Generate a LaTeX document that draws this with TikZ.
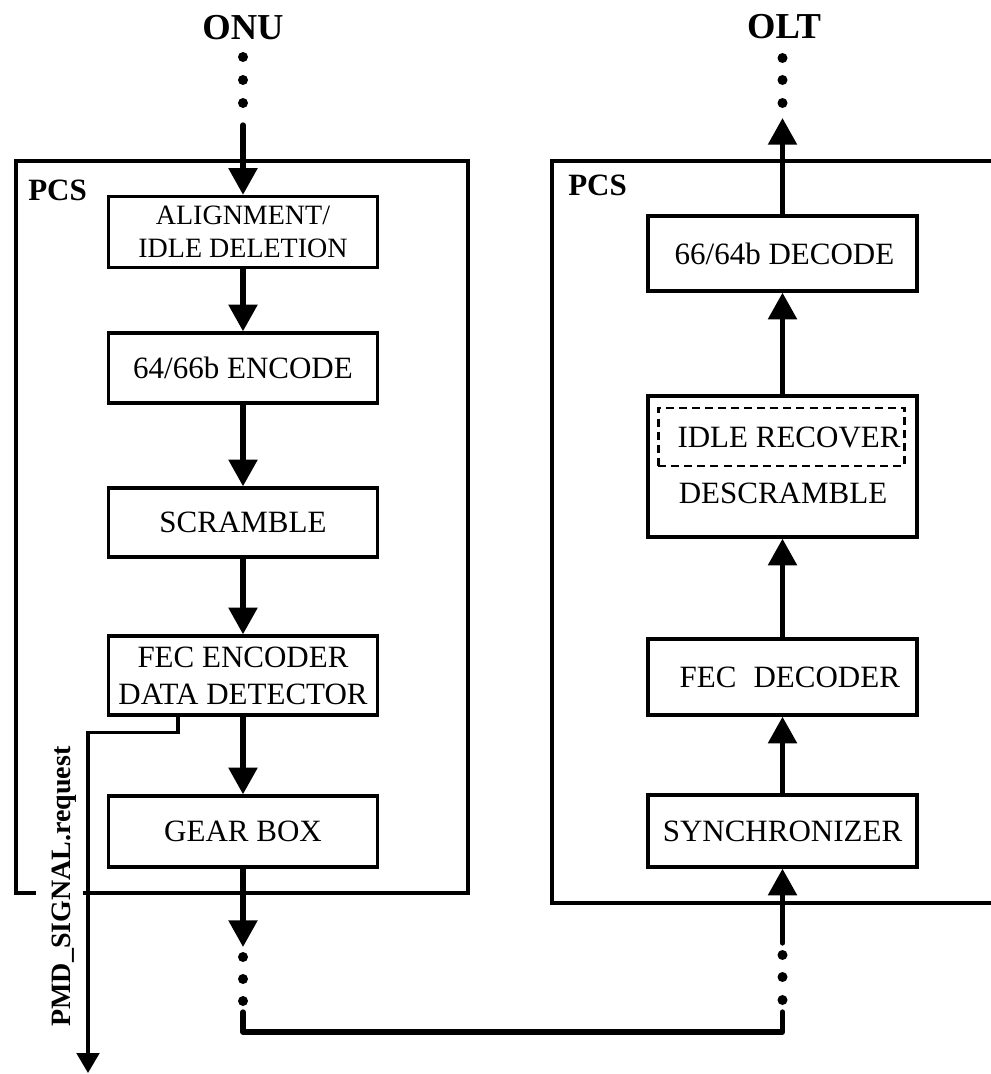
\documentclass[tikz,border=0pt]{standalone}
\usepackage{fontspec}
\setmainfont{Liberation Serif}
\usetikzlibrary{arrows.meta}
\begin{document}
\begin{tikzpicture}[x=0.75pt,y=-0.75pt,
  blk/.style={draw,line width=2.5pt,minimum width=201.75pt,inner sep=0pt,align=center,
    font=\fontsize{23.25pt}{28pt}\selectfont},
  txt/.style={inner sep=0pt,font=\fontsize{23.25pt}{28pt}\selectfont},
  flow/.style={line width=4pt,line cap=round,-{Triangle[width=21pt,length=20pt]}},
  thinflow/.style={line width=2.4pt,-{Triangle[width=17pt,length=15pt]}},
  dotn/.style={circle,fill,inner sep=0pt,minimum size=7.5pt},
  frame/.style={line width=2.3pt},
  title/.style={inner sep=0pt,font=\fontsize{27.4pt}{30pt}\selectfont\bfseries},
  pcs/.style={inner sep=0pt,font=\fontsize{23.25pt}{28pt}\selectfont\bfseries}]
\useasboundingbox (0,0) rectangle (991,1074);

% outer frames
\draw[frame] (36,893) -- (16,893) -- (16,161) -- (468,161) -- (468,893) -- (83,893);
\draw[frame] (1000,161) -- (552,161) -- (552,903) -- (1000,903);
\node[pcs,anchor=base west] (pcsL) at (28,200) {PCS};
\node[pcs,anchor=base west] (pcsR) at (568,195) {PCS};

% titles
\node[title,anchor=base] (onu) at (243,40) {ONU};
\node[title,anchor=base] (olt) at (784,39) {OLT};

% left blocks
\node[blk,minimum height=53.25pt,font=\fontsize{21pt}{24.75pt}\selectfont] (align) at (243,232) {ALIGNMENT/\\IDLE DELETION};
\node[blk,minimum height=52.5pt] (enc) at (243,368) {64/66b ENCODE};
\node[blk,minimum height=51.75pt] (scr) at (243,522.5) {SCRAMBLE};
\node[blk,minimum height=59.25pt,font=\fontsize{23.25pt}{27.75pt}\selectfont] (fec) at (243,675.5) {FEC ENCODER\\DATA DETECTOR};
\node[blk,minimum height=53.25pt] (gear) at (243,831.5) {GEAR BOX};

% right blocks
\node[blk,minimum height=56.25pt] (dec) at (782.5,253.5) {\hspace*{3pt}66/64b DECODE};
\node[blk,minimum height=105.75pt] (desc) at (782.5,466.5) {};
\node[draw,dashed,dash pattern=on 6pt off 3.8pt,line width=2.2pt,minimum width=185pt,minimum height=43.5pt,inner sep=0pt] (idlebox) at (781.5,437) {};
\node[txt] (idle) at (789,437) {IDLE RECOVER};
\node[txt] (desct) at (783,493) {DESCRAMBLE};
\node[blk,minimum height=57pt] (fecd) at (782.5,677) {\hspace*{11pt}FEC\hspace{0.55em}DECODER};
\node[blk,minimum height=54pt] (sync) at (782.5,831) {SYNCHRONIZER};

% dots
\node[dotn] (tl1) at (243,57) {};
\node[dotn] (tl2) at (243,80) {};
\node[dotn] (tl3) at (243,103) {};
\node[dotn] (tr1) at (782.5,58) {};
\node[dotn] (tr2) at (782.5,80) {};
\node[dotn] (tr3) at (782.5,103) {};
\node[dotn] (bl1) at (243,957) {};
\node[dotn] (bl2) at (243,979) {};
\node[dotn] (bl3) at (243,1001) {};
\node[dotn] (br1) at (782.5,955) {};
\node[dotn] (br2) at (782.5,977) {};
\node[dotn] (br3) at (782.5,1000) {};

\coordinate (inL) at (243,125);
\coordinate (outR) at (782.5,118);
\coordinate (outL) at (243,947);
\coordinate (inR) at (782.5,943);
\coordinate (lnA) at (243,1012);
\coordinate (lnB) at (782.5,1012);

% flow arrows left
\draw[flow] (inL) -- (align.north);
\draw[flow] (align) -- (enc);
\draw[flow] (enc) -- (scr);
\draw[flow] (scr) -- (fec);
\draw[flow] (fec) -- (gear);
\draw[flow] (gear) -- (outL);

% bottom link
\draw[line width=4pt,line cap=round,line join=round] (lnA) -- ++(0,20) -| (lnB);

% flow arrows right
\draw[flow] (inR) -- (sync.south);
\draw[flow] (sync) -- (fecd);
\draw[flow] (fecd) -- (desc);
\draw[flow] (desc) -- (dec);
\draw[flow] (dec) -- (outR);

% PMD signal
\coordinate (pmdEnd) at (88,1073);
\draw[thinflow] ([xshift=-48.75pt]fec.south) -- ++(0,16) -- ++(-90,0) -- (pmdEnd);
\node[rotate=90,anchor=base,inner sep=0pt,font=\fontsize{21pt}{24pt}\selectfont\bfseries] (pmd) at (70,886.5) {PMD\_SIGNAL.request};
\end{tikzpicture}
\end{document}
